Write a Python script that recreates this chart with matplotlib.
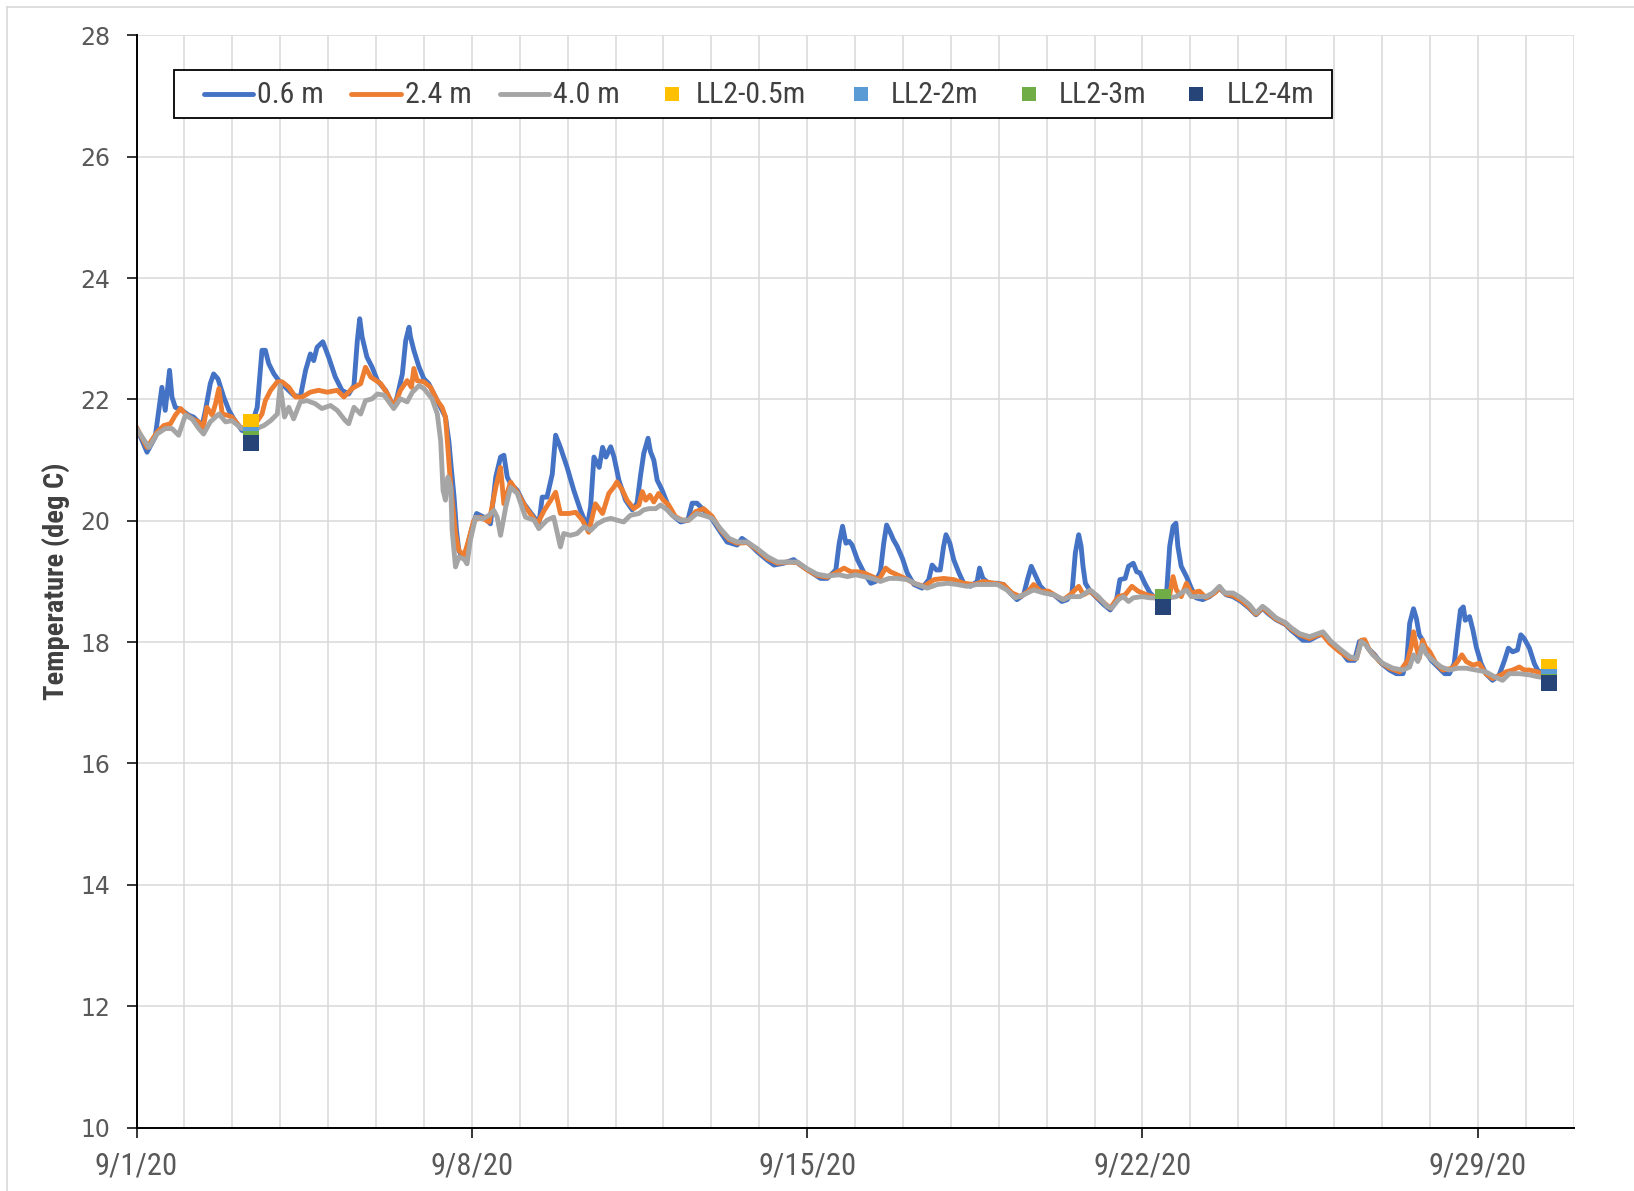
import numpy as np
import matplotlib
matplotlib.use("Agg")
import matplotlib.pyplot as plt
import matplotlib.dates as mdates
from matplotlib.lines import Line2D
from matplotlib.patches import Rectangle
from matplotlib import font_manager

# ---------------------------------------------------------------------------
# Water temperature record, September 2020 (time in days since 9/1/20 00:00)
# ---------------------------------------------------------------------------
t_06 = [0.00, 0.22, 0.39, 0.53, 0.60, 0.69, 0.74, 0.81, 0.95, 1.09, 1.19, 1.37, 1.44, 1.54, 1.61, 1.70,
        1.82, 1.93, 2.03, 2.20, 2.35, 2.52, 2.62, 2.69, 2.76, 2.87, 2.97, 3.11, 3.28, 3.42, 3.53, 3.63,
        3.70, 3.77, 3.89, 4.01, 4.15, 4.29, 4.43, 4.54, 4.61, 4.66, 4.71, 4.81, 4.92, 5.03, 5.20, 5.37,
        5.44, 5.55, 5.62, 5.69, 5.72, 5.79, 5.90, 6.00, 6.10, 6.24, 6.35, 6.45, 6.52, 6.57, 6.63, 6.68,
        6.73, 6.80, 6.87, 6.94, 7.01, 7.10, 7.25, 7.39, 7.50, 7.60, 7.67, 7.74, 7.81, 7.95, 8.09, 8.30,
        8.40, 8.47, 8.57, 8.68, 8.75, 8.85, 8.99, 9.13, 9.27, 9.41, 9.48, 9.55, 9.66, 9.73, 9.80, 9.90,
        9.97, 10.07, 10.21, 10.35, 10.45, 10.52, 10.59, 10.68, 10.73, 10.80, 10.87, 10.97, 11.08, 11.22,
        11.36, 11.51, 11.60, 11.70, 11.84, 11.98, 12.16, 12.33, 12.54, 12.64, 12.78, 12.96, 13.17, 13.31,
        13.51, 13.72, 13.86, 14.07, 14.28, 14.42, 14.60, 14.67, 14.74, 14.81, 14.88, 14.94, 15.05, 15.19,
        15.33, 15.43, 15.53, 15.60, 15.66, 15.74, 15.80, 15.88, 15.99, 16.09, 16.23, 16.40, 16.54, 16.61,
        16.70, 16.78, 16.85, 16.90, 16.98, 17.06, 17.17, 17.27, 17.41, 17.55, 17.60, 17.67, 17.79, 17.97,
        18.10, 18.24, 18.38, 18.52, 18.60, 18.68, 18.76, 18.87, 19.01, 19.15, 19.32, 19.43, 19.53, 19.60,
        19.67, 19.72, 19.76, 19.81, 19.91, 20.05, 20.19, 20.33, 20.46, 20.53, 20.64, 20.71, 20.81, 20.88,
        20.95, 21.05, 21.16, 21.26, 21.50, 21.57, 21.64, 21.70, 21.74, 21.81, 21.92, 22.02, 22.12, 22.26,
        22.40, 22.54, 22.61, 22.75, 22.89, 23.06, 23.23, 23.37, 23.51, 23.61, 23.79, 23.99, 24.10, 24.22,
        24.35, 24.49, 24.63, 24.77, 24.88, 25.01, 25.15, 25.29, 25.43, 25.53, 25.62, 25.71, 25.85, 25.99,
        26.16, 26.30, 26.44, 26.52, 26.58, 26.66, 26.72, 26.78, 26.85, 26.92, 27.03, 27.17, 27.31, 27.41,
        27.51, 27.58, 27.64, 27.70, 27.74, 27.83, 27.90, 27.97, 28.07, 28.17, 28.31, 28.45, 28.56, 28.64,
        28.73, 28.83, 28.90, 28.97, 29.08, 29.18, 29.25, 29.35]
temp_06 = [21.54, 21.13, 21.38, 22.20, 21.82, 22.48, 22.04, 21.87, 21.82, 21.74, 21.71, 21.57, 21.82, 22.26, 22.42, 22.34,
           22.04, 21.82, 21.68, 21.49, 21.45, 21.87, 22.81, 22.81, 22.59, 22.42, 22.31, 22.20, 22.07, 22.04, 22.48, 22.75,
           22.64, 22.86, 22.95, 22.70, 22.37, 22.15, 22.09, 22.23, 22.97, 23.33, 23.03, 22.70, 22.53, 22.31, 22.15, 21.87,
           22.04, 22.42, 22.97, 23.19, 23.03, 22.81, 22.53, 22.34, 22.26, 22.04, 21.87, 21.71, 21.32, 20.88, 20.39, 19.84,
           19.51, 19.40, 19.35, 19.68, 19.90, 20.12, 20.06, 19.95, 20.72, 21.05, 21.08, 20.72, 20.61, 20.50, 20.28, 20.06,
           19.95, 20.39, 20.39, 20.77, 21.41, 21.21, 20.88, 20.50, 20.17, 19.90, 20.23, 21.05, 20.88, 21.21, 21.05, 21.22,
           21.05, 20.67, 20.34, 20.18, 20.29, 20.73, 21.11, 21.36, 21.14, 21.00, 20.67, 20.51, 20.29, 20.07,
           19.98, 20.01, 20.29, 20.29, 20.18, 20.07, 19.85, 19.65, 19.60, 19.71, 19.63, 19.49, 19.35, 19.27,
           19.30, 19.36, 19.27, 19.16, 19.05, 19.05, 19.19, 19.63, 19.91, 19.63, 19.66, 19.60, 19.36, 19.14,
           18.97, 19.00, 19.16, 19.63, 19.93, 19.80, 19.69, 19.58, 19.38, 19.14, 18.95, 18.89, 19.03, 19.27,
           19.19, 19.19, 19.58, 19.77, 19.63, 19.36, 19.14, 18.97, 18.92, 19.00, 19.22, 19.05, 18.97, 18.97,
           18.95, 18.81, 18.70, 18.78, 19.03, 19.25, 19.11, 18.92, 18.81, 18.78, 18.67, 18.70, 18.81, 19.47,
           19.77, 19.58, 19.25, 18.97, 18.84, 18.73, 18.62, 18.53, 18.70, 19.03, 19.05, 19.25, 19.30, 19.16,
           19.14, 18.97, 18.81, 18.73, 18.75, 19.58, 19.91, 19.96, 19.58, 19.25, 19.08, 18.89, 18.73, 18.70,
           18.75, 18.84, 18.89, 18.78, 18.75, 18.67, 18.56, 18.45, 18.56, 18.48, 18.37, 18.29, 18.20, 18.12,
           18.03, 18.03, 18.09, 18.14, 18.03, 17.92, 17.84, 17.70, 17.70, 18.01, 18.03, 17.90, 17.79, 17.65,
           17.54, 17.48, 17.48, 17.70, 18.31, 18.55, 18.39, 18.12, 18.03, 17.84, 17.70, 17.59, 17.48, 17.48,
           17.65, 18.14, 18.53, 18.58, 18.36, 18.42, 18.20, 17.92, 17.65, 17.48, 17.37, 17.46, 17.70, 17.90,
           17.84, 17.87, 18.12, 18.06, 17.90, 17.65, 17.54, 17.48]

t_24 = [0.00, 0.22, 0.43, 0.57, 0.71, 0.81, 0.92, 1.02, 1.16, 1.30, 1.39, 1.47, 1.58, 1.65, 1.72, 1.79,
        1.89, 1.99, 2.17, 2.40, 2.62, 2.69, 2.80, 2.94, 3.04, 3.18, 3.32, 3.46, 3.63, 3.80, 3.98, 4.19,
        4.33, 4.50, 4.68, 4.78, 4.89, 5.10, 5.24, 5.37, 5.51, 5.65, 5.74, 5.79, 5.86, 6.00, 6.14, 6.28,
        6.38, 6.45, 6.50, 6.54, 6.59, 6.66, 6.73, 6.84, 6.94, 7.04, 7.18, 7.36, 7.50, 7.60, 7.67, 7.81,
        7.95, 8.12, 8.37, 8.51, 8.65, 8.75, 8.85, 9.03, 9.17, 9.31, 9.44, 9.58, 9.73, 9.86, 9.97, 10.03,
        10.14, 10.24, 10.38, 10.49, 10.56, 10.63, 10.72, 10.80, 10.90, 11.00, 11.11, 11.25, 11.39, 11.53,
        11.67, 11.84, 12.02, 12.19, 12.37, 12.54, 12.75, 12.96, 13.17, 13.38, 13.59, 13.80, 14.00, 14.21,
        14.42, 14.64, 14.77, 14.91, 15.05, 15.19, 15.36, 15.50, 15.64, 15.74, 15.88, 16.05, 16.23, 16.44,
        16.65, 16.85, 17.06, 17.27, 17.48, 17.69, 17.90, 18.10, 18.28, 18.45, 18.62, 18.73, 18.87, 19.04,
        19.22, 19.35, 19.49, 19.67, 19.77, 19.91, 20.12, 20.33, 20.50, 20.64, 20.78, 20.91, 21.09, 21.22,
        21.57, 21.64, 21.71, 21.81, 21.92, 22.02, 22.19, 22.33, 22.51, 22.61, 22.75, 22.89, 23.06, 23.23,
        23.37, 23.51, 23.61, 23.79, 23.99, 24.10, 24.28, 24.49, 24.74, 24.91, 25.12, 25.33, 25.47, 25.57,
        25.64, 25.74, 25.95, 26.16, 26.37, 26.54, 26.61, 26.66, 26.72, 26.78, 26.85, 26.91, 27.00, 27.13,
        27.27, 27.47, 27.58, 27.67, 27.76, 27.90, 28.03, 28.17, 28.31, 28.49, 28.59, 28.73, 28.87, 28.97,
        29.08, 29.25, 29.35]
temp_24 = [21.54, 21.21, 21.46, 21.57, 21.60, 21.74, 21.85, 21.76, 21.68, 21.63, 21.52, 21.87, 21.74, 21.93, 22.18, 21.76,
           21.74, 21.71, 21.54, 21.50, 21.76, 21.98, 22.15, 22.29, 22.29, 22.20, 22.04, 22.04, 22.12, 22.15, 22.12, 22.15,
           22.04, 22.18, 22.26, 22.53, 22.37, 22.26, 22.09, 21.87, 22.15, 22.31, 22.20, 22.51, 22.31, 22.29, 22.20, 21.98,
           21.87, 21.71, 21.21, 20.77, 20.34, 19.79, 19.51, 19.43, 19.70, 20.00, 20.06, 19.98, 20.55, 20.88, 20.28, 20.64,
           20.47, 20.23, 19.95, 20.17, 20.34, 20.47, 20.12, 20.12, 20.14, 20.01, 19.81, 20.28, 20.12, 20.45, 20.56, 20.64,
           20.51, 20.34, 20.20, 20.26, 20.48, 20.34, 20.42, 20.31, 20.45, 20.34, 20.26, 20.07, 20.01, 20.01,
           20.15, 20.20, 20.07, 19.85, 19.69, 19.63, 19.64, 19.52, 19.38, 19.30, 19.32, 19.31, 19.19, 19.10,
           19.07, 19.16, 19.22, 19.16, 19.16, 19.14, 19.08, 19.03, 19.22, 19.16, 19.11, 19.05, 18.97, 18.92,
           19.03, 19.05, 19.03, 18.97, 18.95, 19.00, 18.97, 18.95, 18.81, 18.75, 18.84, 18.95, 18.84, 18.84,
           18.75, 18.70, 18.78, 18.92, 18.78, 18.84, 18.70, 18.56, 18.75, 18.78, 18.92, 18.84, 18.78, 18.75,
           18.78, 19.08, 18.86, 18.75, 18.97, 18.81, 18.84, 18.73, 18.81, 18.89, 18.79, 18.77, 18.69, 18.58,
           18.46, 18.57, 18.50, 18.38, 18.30, 18.22, 18.12, 18.06, 18.14, 17.98, 17.84, 17.73, 17.73, 18.03,
           18.04, 17.87, 17.68, 17.57, 17.51, 17.70, 17.92, 18.17, 17.92, 17.73, 18.03, 17.92, 17.84, 17.65,
           17.54, 17.57, 17.68, 17.79, 17.68, 17.62, 17.65, 17.48, 17.40, 17.46, 17.51, 17.54, 17.59, 17.54,
           17.54, 17.51, 17.47]

t_40 = [0.00, 0.26, 0.43, 0.60, 0.74, 0.88, 1.02, 1.16, 1.30, 1.40, 1.54, 1.72, 1.86, 1.99, 2.20, 2.45,
        2.66, 2.80, 2.94, 3.00, 3.09, 3.18, 3.28, 3.42, 3.56, 3.73, 3.87, 4.05, 4.19, 4.36, 4.43, 4.54,
        4.68, 4.78, 4.92, 5.03, 5.17, 5.37, 5.51, 5.65, 5.76, 5.90, 6.00, 6.17, 6.28, 6.35, 6.40, 6.45,
        6.50, 6.56, 6.59, 6.66, 6.73, 6.84, 6.90, 6.97, 7.08, 7.22, 7.36, 7.46, 7.53, 7.60, 7.71, 7.81,
        7.95, 8.12, 8.30, 8.40, 8.57, 8.71, 8.85, 8.92, 9.06, 9.20, 9.34, 9.48, 9.62, 9.76, 9.90, 10.03,
        10.17, 10.31, 10.49, 10.59, 10.70, 10.84, 10.94, 11.08, 11.18, 11.36, 11.53, 11.70, 11.84, 12.02,
        12.19, 12.37, 12.54, 12.75, 12.96, 13.17, 13.38, 13.59, 13.80, 14.00, 14.21, 14.42, 14.67, 14.84,
        15.01, 15.19, 15.36, 15.53, 15.71, 15.88, 16.09, 16.30, 16.51, 16.72, 16.93, 17.13, 17.34, 17.55,
        17.76, 17.97, 18.17, 18.35, 18.52, 18.73, 18.94, 19.15, 19.35, 19.49, 19.70, 19.91, 20.08, 20.26,
        20.36, 20.50, 20.60, 20.71, 20.81, 20.99, 21.16, 21.57, 21.71, 21.81, 21.92, 22.02, 22.19, 22.33,
        22.47, 22.61, 22.72, 22.89, 23.06, 23.23, 23.37, 23.51, 23.61, 23.79, 23.99, 24.10, 24.28, 24.49,
        24.77, 24.94, 25.15, 25.33, 25.47, 25.57, 25.67, 25.81, 26.02, 26.23, 26.44, 26.58, 26.66, 26.75,
        26.85, 26.92, 27.06, 27.24, 27.41, 27.58, 27.76, 27.97, 28.17, 28.35, 28.52, 28.66, 28.87, 29.08,
        29.25, 29.35]
temp_40 = [21.52, 21.21, 21.43, 21.52, 21.52, 21.41, 21.74, 21.68, 21.52, 21.43, 21.63, 21.76, 21.63, 21.65, 21.52, 21.50,
           21.57, 21.65, 21.76, 22.23, 21.71, 21.87, 21.68, 21.96, 21.98, 21.93, 21.85, 21.90, 21.82, 21.65, 21.60, 21.87,
           21.76, 21.98, 22.01, 22.09, 22.07, 21.85, 22.01, 21.96, 22.12, 22.23, 22.18, 22.01, 21.76, 21.32, 20.50, 20.34,
           20.72, 20.55, 19.84, 19.24, 19.40, 19.37, 19.29, 19.68, 20.06, 20.03, 20.09, 20.17, 20.06, 19.76, 20.23, 20.55,
           20.45, 20.06, 20.01, 19.87, 20.01, 20.06, 19.57, 19.79, 19.76, 19.79, 19.90, 19.84, 19.95, 20.01, 20.04, 20.01,
           19.98, 20.09, 20.12, 20.18, 20.20, 20.20, 20.26, 20.18, 20.09, 20.01, 20.01, 20.12, 20.09, 20.04,
           19.87, 19.71, 19.65, 19.65, 19.54, 19.41, 19.32, 19.32, 19.32, 19.21, 19.12, 19.09, 19.11, 19.08,
           19.11, 19.08, 19.05, 19.00, 19.05, 19.05, 19.03, 18.95, 18.89, 18.95, 18.97, 18.95, 18.92, 18.95,
           18.95, 18.95, 18.86, 18.73, 18.78, 18.86, 18.81, 18.78, 18.70, 18.75, 18.75, 18.86, 18.75, 18.59,
           18.56, 18.70, 18.75, 18.67, 18.73, 18.75, 18.73, 18.73, 18.75, 18.81, 18.86, 18.75, 18.75, 18.75,
           18.81, 18.92, 18.81, 18.81, 18.73, 18.62, 18.48, 18.59, 18.53, 18.40, 18.32, 18.24, 18.14, 18.09,
           18.17, 18.01, 17.87, 17.76, 17.73, 18.01, 17.95, 17.79, 17.65, 17.57, 17.54, 17.59, 17.79, 17.68,
           17.95, 17.81, 17.70, 17.59, 17.54, 17.57, 17.57, 17.54, 17.51, 17.43, 17.37, 17.48, 17.48, 17.46,
           17.43, 17.42]

# Spot profile readings at station LL2
t_ll2 = [2.39, 21.43, 29.48]
ll2_05m = [21.63, np.nan, 17.585]
ll2_2m = [21.42, np.nan, 17.43]
ll2_3m = [21.34, 18.75, 17.35]
ll2_4m = [21.28, 18.58, 17.32]

series_names = ["0.6 m", "2.4 m", "4.0 m"]
marker_names = ["LL2-0.5m", "LL2-2m", "LL2-3m", "LL2-4m"]
tick_dates = ["2020-09-01", "2020-09-08", "2020-09-15", "2020-09-22", "2020-09-29"]
tick_labels = ["9/1/20", "9/8/20", "9/15/20", "9/22/20", "9/29/20"]
y_ticks = [10, 12, 14, 16, 18, 20, 22, 24, 26, 28]


def pick_font(*names):
    available = {f.name for f in font_manager.fontManager.ttflist}
    for n in names:
        if n in available:
            return n
    return "DejaVu Sans"


narrow = pick_font("Liberation Sans Narrow", "DejaVu Sans Condensed", "Roboto Condensed", "Open Sans", "DejaVu Sans")

start = np.datetime64("2020-09-01T00:00")


def to_dates(days):
    secs = np.round(np.asarray(days, dtype=float) * 86400).astype("int64")
    return start + secs.astype("timedelta64[s]")


W, H = 1634, 1191
fig = plt.figure(figsize=(W / 100, H / 100), dpi=100)
ax = fig.add_axes([136.5 / W, 1 - 1127.5 / H, 1437 / W, 1092.1 / H])


def fx(px):
    return px / W


def fy(py):
    return 1 - py / H


lw = 3.5
line_colors = ["#4472C4", "#ED7D31", "#A5A5A5"]
for tt, vv, col, name in zip((t_06, t_24, t_40), (temp_06, temp_24, temp_40), line_colors, series_names):
    ax.plot(to_dates(tt), vv, color=col, lw=lw, solid_joinstyle="round", solid_capstyle="round",
            label=name, zorder=3)

ms = 12
marker_colors = ["#FFC000", "#5B9BD5", "#70AD47", "#264478"]
for name, vals, col in zip(marker_names, (ll2_05m, ll2_2m, ll2_3m, ll2_4m), marker_colors):
    ax.plot(to_dates(t_ll2), vals, linestyle="none", marker="s", ms=ms, color=col,
            markeredgewidth=0, label=name, zorder=4)

ax.set_xlim(np.datetime64("2020-09-01"), np.datetime64("2020-10-01"))
ax.set_ylim(10, 28)

ax.set_xticks([mdates.date2num(np.datetime64(d)) for d in tick_dates])
ax.set_xticklabels(tick_labels)
ax.xaxis.set_minor_locator(mdates.DayLocator())
ax.set_yticks(y_ticks)

ax.grid(True, which="both", axis="x", color="#D9D9D9", lw=1.1, zorder=0)
ax.grid(True, which="major", axis="y", color="#D9D9D9", lw=1.1, zorder=0)
ax.set_axisbelow(True)

for s in ("top", "right"):
    ax.spines[s].set_visible(False)
for s in ("left", "bottom"):
    ax.spines[s].set_color("black")
    ax.spines[s].set_linewidth(1.4)
    ax.spines[s].set_zorder(5)

ax.tick_params(axis="y", which="major", direction="out", length=7, width=1.1, color="black",
               pad=12, labelsize=17, labelcolor="#595959")
ax.tick_params(axis="x", which="major", direction="out", length=7, width=1.1, color="black",
               pad=10, labelsize=22, labelcolor="#595959")
ax.tick_params(axis="x", which="minor", length=0)
for lab in ax.get_xticklabels():
    lab.set_family(narrow)
for lab in ax.get_yticklabels():
    lab.set_family("DejaVu Sans")

ax.set_ylabel("Temperature (deg C)", fontsize=20.5, fontweight="bold", color="#404040", family=narrow)
ax.yaxis.set_label_coords(-0.046, 0.5)

# legend box laid out in pixel positions along the top of the plot area
box_l, box_r, box_t, box_b = 174.0, 1331.8, 69.8, 117.8
yc = (box_t + box_b) / 2
fig.add_artist(Rectangle((fx(box_l), fy(box_b)), fx(box_r - box_l), (box_b - box_t) / H,
                         transform=fig.transFigure, facecolor="white", edgecolor="black",
                         lw=1.3, zorder=6))
leg_font = dict(family=narrow, size=21.5, color="#404040", va="center", ha="left",
                transform=fig.transFigure, zorder=7)
line_handles = [(204.3, 253.2, 257.4), (351.2, 401.2, 405.4), (500.2, 549.2, 553.4)]
for (x0, x1, xt), col, name in zip(line_handles, line_colors, series_names):
    fig.add_artist(Line2D([fx(x0), fx(x1)], [fy(yc), fy(yc)], color=col, lw=lw,
                          solid_capstyle="round", transform=fig.transFigure, zorder=7))
    fig.text(fx(xt), fy(yc + 1), name, **leg_font)
marker_handles = [(672.2, 696.1), (860.8, 891.0), (1028.6, 1058.8), (1196.3, 1226.6)]
for (xm, xt), col, name in zip(marker_handles, marker_colors, marker_names):
    fig.add_artist(Line2D([fx(xm)], [fy(yc)], linestyle="none", marker="s", ms=10.5, color=col,
                          markeredgewidth=0, transform=fig.transFigure, zorder=7))
    fig.text(fx(xt), fy(yc + 1), name, **leg_font)

# chart area border
fig.add_artist(Line2D([7 / W, 7 / W], [0, 1 - 7 / H], color="#D9D9D9", lw=1.2))
fig.add_artist(Line2D([7 / W, 1], [1 - 7 / H, 1 - 7 / H], color="#D9D9D9", lw=1.2))

fig.savefig("out.png", dpi=100)
